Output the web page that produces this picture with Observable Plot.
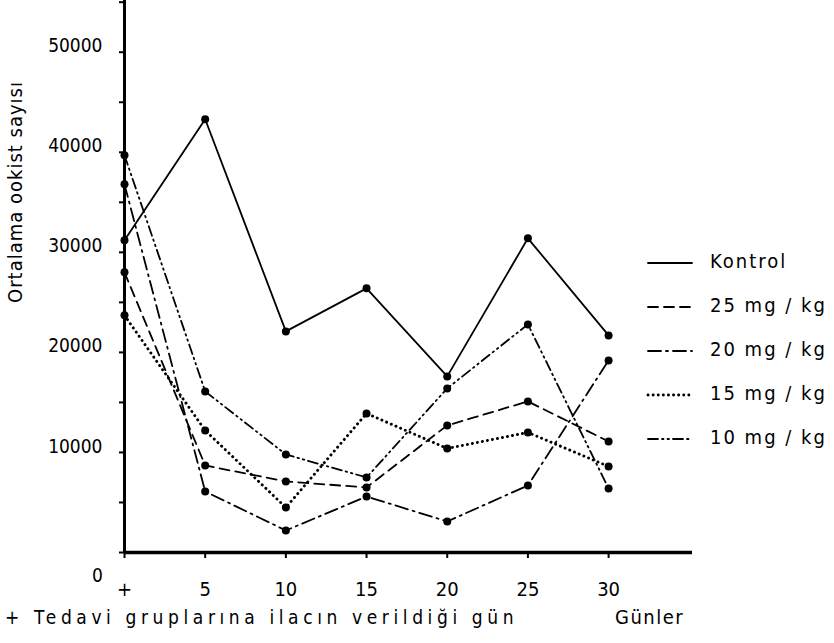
<!DOCTYPE html>
<html>
<head>
<meta charset="utf-8">
<script src="https://cdn.jsdelivr.net/npm/d3@7"></script>
<script src="https://cdn.jsdelivr.net/npm/@observablehq/plot@0.6"></script>
<style>
  html, body { margin: 0; padding: 0; background: #fff; }
  #chart { position: relative; width: 834px; height: 643px; }
  svg { overflow: visible; }
</style>
</head>
<body>
<div id="chart"></div>
<script>
// ---- data ----
const days = [0, 5, 10, 15, 20, 25, 30];
const kontrol = [31200, 43300, 22100, 26400, 17600, 31400, 21700];
const mg25    = [28000, 8700, 7100, 6500, 12700, 15100, 11100];
const mg20    = [36800, 6100, 2200, 5600, 3100, 6700, 19200];
const mg15    = [23700, 12200, 4500, 13900, 10400, 12000, 8600];
const mg10    = [39700, 16100, 9800, 7500, 16400, 22800, 6400];
const seriesNames = ["Kontrol", "25 mg / kg", "20 mg / kg", "15 mg / kg", "10 mg / kg"];
const xTickLabels = ["+", "5", "10", "15", "20", "25", "30"];
const yMinorTicks = [0, 5000, 10000, 15000, 20000, 25000, 30000, 35000, 40000, 45000, 50000, 55000];
const yLabelTicks = [10000, 20000, 30000, 40000, 50000];
const zeroLabel = ["0"];
const yTitle = "Ortalama ookist sayısı";
const footnote = "+ Tedavi gruplarına ilacın verildiği gün";
const xTitle = "Günler";

// ---- styles ----
const dashes = [null, "10,6", "13,5,2,5", "0.1,5", "10,4,1.5,4,1.5,4"];
const widths = [1.8, 1.8, 1.8, 2.9, 1.8];
const values = [kontrol, mg25, mg20, mg15, mg10];
const rows = seriesNames.flatMap((name, s) =>
  days.map((d, i) => ({ day: d, value: values[s][i], series: name, s })));

const FONT = "'DejaVu Sans Condensed', 'Liberation Sans Narrow', 'DejaVu Sans', sans-serif";

const lineMarks = seriesNames.map((name, s) =>
  Plot.line(rows.filter(r => r.s === s), {
    x: "day", y: "value", stroke: "black", strokeWidth: widths[s],
    strokeDasharray: dashes[s], strokeLinecap: "round"
  }));

const plot = Plot.plot({
  width: 834,
  height: 643,
  marginLeft: 124,
  marginRight: 142,
  marginTop: 0,
  marginBottom: 91,
  style: { fontFamily: FONT, fontSize: "19px", color: "black", background: "white" },
  x: { domain: [0, 35.2] },
  y: { domain: [0, 55170] },
  marks: [
    Plot.axisY({ ticks: yMinorTicks, tickSize: 5, tickFormat: () => "", label: null, strokeWidth: 2 }),
    Plot.axisY({ ticks: yLabelTicks, tickSize: 0, tickPadding: 22, dy: -6, tickFormat: d => String(d), label: null, fontSize: 19, letterSpacing: 2 }),
    Plot.axisX({ ticks: days, tickSize: 6, tickPadding: 23, tickFormat: (d, i) => xTickLabels[i], label: null, fontSize: 20, strokeWidth: 2 }),
    Plot.ruleX([0], { strokeWidth: 3 }),
    Plot.ruleY([0], { strokeWidth: 3.5 }),
    ...lineMarks,
    Plot.dot(rows, { x: "day", y: "value", r: 4, fill: "black" }),
    Plot.text(zeroLabel, { x: () => 0, y: () => 0, text: d => d, dx: -27, dy: 23, fontSize: 19 })
  ]
});

const svg = d3.select(plot);

// y title
svg.append("text")
  .attr("transform", "translate(22,192) rotate(-90)")
  .attr("text-anchor", "middle")
  .attr("font-family", FONT)
  .attr("font-size", 20)
  .attr("letter-spacing", 1)
  .text(yTitle);

// footnote and x title
svg.append("text")
  .attr("x", 5).attr("y", 624)
  .attr("text-anchor", "start")
  .attr("font-family", FONT).attr("font-size", 19).attr("letter-spacing", 4.6)
  .text(footnote);
svg.append("text")
  .attr("x", 615).attr("y", 624)
  .attr("text-anchor", "start")
  .attr("font-family", FONT).attr("font-size", 20).attr("letter-spacing", 1.5)
  .text(xTitle);

// legend
const leg = svg.append("g").attr("transform", "translate(648,263)");
seriesNames.forEach((name, s) => {
  const g = leg.append("g").attr("transform", `translate(0,${s * 44})`);
  g.append("line")
    .attr("x1", 0).attr("x2", 44).attr("y1", 0).attr("y2", 0)
    .attr("stroke", "black").attr("stroke-width", widths[s])
    .attr("stroke-linecap", "round")
    .attr("stroke-dasharray", dashes[s]);
  g.append("text")
    .attr("x", 62).attr("y", 5)
    .attr("text-anchor", "start")
    .attr("font-family", FONT).attr("font-size", 20).attr("letter-spacing", 2)
    .text(name);
});

document.getElementById("chart").appendChild(plot);
</script>
</body>
</html>
